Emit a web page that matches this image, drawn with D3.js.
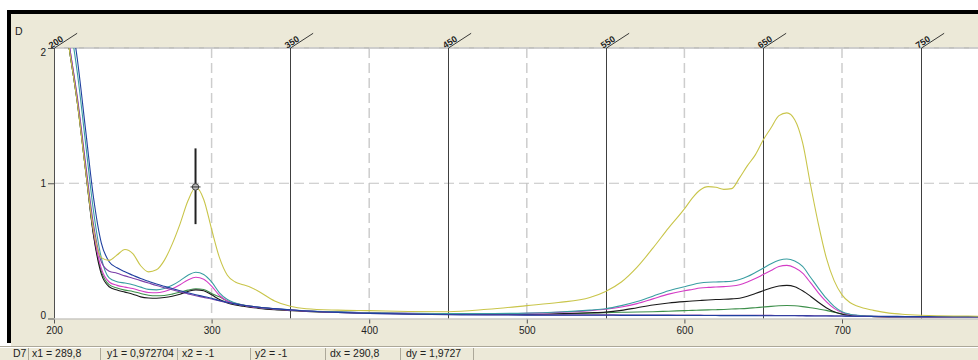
<!DOCTYPE html>
<html>
<head>
<meta charset="utf-8">
<script src="https://cdn.jsdelivr.net/npm/d3@7/dist/d3.min.js"></script>
<style>
  html, body { margin: 0; padding: 0; background: #fff; }
  svg { display: block; }
  text { font-family: "Liberation Sans Narrow", "Arial Narrow", "Liberation Sans", sans-serif; }
</style>
</head>
<body>
<div id="chart"></div>
<script>
// wavelength grid (nm) shared by every spectrum
const WAVELENGTHS = [200, 205, 210, 215, 220, 225, 230, 235, 240, 245, 250, 255, 260, 265, 270, 275, 280, 285, 290, 295,
  300, 305, 310, 315, 320, 325, 330, 340, 350, 360, 380, 400, 425, 450, 475, 500, 520, 540, 550, 560,
  570, 580, 590, 600, 605, 610, 615, 620, 625, 630, 635, 640, 645, 650, 655, 660, 665, 670, 675, 680,
  685, 690, 695, 700, 705, 710, 720, 730, 740, 760, 780, 800];

const GREEN = [2.7, 2.35, 1.97, 1.58, 1.1, 0.63, 0.35, 0.25, 0.225, 0.21, 0.2, 0.185, 0.172, 0.168, 0.17, 0.18, 0.195, 0.21, 0.22, 0.215,
  0.185, 0.16, 0.13, 0.112, 0.1, 0.09, 0.082, 0.07, 0.062, 0.055, 0.047, 0.042, 0.036, 0.032, 0.03, 0.03, 0.033, 0.04, 0.043, 0.046,
  0.048, 0.05, 0.054, 0.058, 0.06, 0.062, 0.064, 0.065, 0.067, 0.07, 0.072, 0.075, 0.08, 0.085, 0.09, 0.094, 0.096, 0.094, 0.088, 0.08,
  0.07, 0.06, 0.047, 0.035, 0.026, 0.02, 0.015, 0.013, 0.012, 0.011, 0.01, 0.01];

const BLACK = [2.7, 2.35, 1.97, 1.58, 1.1, 0.62, 0.33, 0.235, 0.21, 0.195, 0.18, 0.16, 0.152, 0.15, 0.155, 0.165, 0.18, 0.2, 0.212, 0.205,
  0.175, 0.14, 0.115, 0.1, 0.09, 0.082, 0.075, 0.065, 0.058, 0.052, 0.045, 0.04, 0.035, 0.03, 0.03, 0.03, 0.035, 0.042, 0.047, 0.06,
  0.08, 0.1, 0.115, 0.125, 0.129, 0.133, 0.137, 0.14, 0.142, 0.145, 0.15, 0.165, 0.185, 0.205, 0.225, 0.24, 0.245, 0.235, 0.205, 0.165,
  0.12, 0.08, 0.05, 0.032, 0.022, 0.018, 0.014, 0.012, 0.011, 0.01, 0.01, 0.01];

const MAGENTA = [2.75, 2.4, 2.0, 1.6, 1.12, 0.65, 0.37, 0.27, 0.245, 0.232, 0.222, 0.205, 0.192, 0.19, 0.2, 0.22, 0.25, 0.285, 0.305, 0.29,
  0.24, 0.17, 0.13, 0.11, 0.098, 0.088, 0.08, 0.07, 0.062, 0.056, 0.048, 0.042, 0.038, 0.035, 0.035, 0.038, 0.045, 0.058, 0.068, 0.085,
  0.11, 0.145, 0.18, 0.205, 0.215, 0.225, 0.23, 0.233, 0.236, 0.24, 0.25, 0.27, 0.295, 0.325, 0.355, 0.385, 0.393, 0.375, 0.335, 0.265,
  0.19, 0.125, 0.075, 0.045, 0.03, 0.022, 0.016, 0.013, 0.012, 0.011, 0.01, 0.01];

const TEAL = [2.9, 2.6, 2.2, 1.8, 1.3, 0.8, 0.45, 0.3, 0.272, 0.262, 0.25, 0.232, 0.215, 0.212, 0.222, 0.245, 0.28, 0.32, 0.342, 0.325,
  0.27, 0.19, 0.14, 0.115, 0.1, 0.09, 0.082, 0.072, 0.064, 0.057, 0.049, 0.043, 0.039, 0.036, 0.037, 0.04, 0.048, 0.062, 0.072, 0.095,
  0.125, 0.165, 0.205, 0.235, 0.25, 0.262, 0.268, 0.27, 0.272, 0.276, 0.288, 0.31, 0.34, 0.372, 0.405, 0.43, 0.44, 0.425, 0.385, 0.305,
  0.225, 0.15, 0.09, 0.05, 0.032, 0.024, 0.017, 0.014, 0.012, 0.011, 0.01, 0.01];

const PURPLE = [2.75, 2.4, 2.0, 1.62, 1.15, 0.7, 0.42, 0.35, 0.335, 0.315, 0.298, 0.28, 0.262, 0.244, 0.228, 0.212, 0.196, 0.182, 0.168, 0.156,
  0.144, 0.13, 0.118, 0.107, 0.098, 0.09, 0.083, 0.072, 0.063, 0.055, 0.045, 0.038, 0.033, 0.03, 0.028, 0.027, 0.027, 0.027, 0.027, 0.026,
  0.026, 0.026, 0.025, 0.025, 0.025, 0.025, 0.024, 0.024, 0.024, 0.024, 0.024, 0.023, 0.023, 0.023, 0.023, 0.022, 0.022, 0.022, 0.021, 0.021,
  0.02, 0.02, 0.019, 0.018, 0.017, 0.016, 0.015, 0.014, 0.013, 0.012, 0.012, 0.011];

const BLUE = [3.0, 2.7, 2.3, 1.9, 1.4, 0.9, 0.56, 0.42, 0.375, 0.345, 0.32, 0.295, 0.275, 0.255, 0.238, 0.222, 0.205, 0.19, 0.176, 0.163,
  0.15, 0.133, 0.12, 0.108, 0.098, 0.09, 0.083, 0.073, 0.064, 0.056, 0.045, 0.038, 0.032, 0.028, 0.026, 0.025, 0.024, 0.024, 0.024, 0.023,
  0.023, 0.023, 0.023, 0.022, 0.022, 0.022, 0.022, 0.022, 0.021, 0.021, 0.021, 0.021, 0.021, 0.02, 0.02, 0.02, 0.02, 0.02, 0.02, 0.019,
  0.019, 0.019, 0.018, 0.018, 0.017, 0.017, 0.016, 0.016, 0.015, 0.015, 0.015, 0.015];

const YELLOW = [2.7, 2.35, 1.97, 1.58, 1.1, 0.66, 0.45, 0.43, 0.47, 0.51, 0.48, 0.39, 0.345, 0.36, 0.43, 0.55, 0.7, 0.87, 0.97, 0.88,
  0.66, 0.45, 0.32, 0.27, 0.25, 0.23, 0.2, 0.13, 0.09, 0.072, 0.062, 0.058, 0.052, 0.05, 0.068, 0.095, 0.118, 0.155, 0.2, 0.27,
  0.38, 0.52, 0.67, 0.81, 0.89, 0.95, 0.975, 0.97, 0.955, 0.96, 1.04, 1.13, 1.21, 1.32, 1.41, 1.5, 1.52, 1.47, 1.3, 0.99,
  0.7, 0.45, 0.28, 0.175, 0.118, 0.09, 0.06, 0.04, 0.03, 0.02, 0.018, 0.015];

const SERIES = [
  { name: 'green', color: '#3d8f4a', values: GREEN },
  { name: 'black', color: '#1a1a1a', values: BLACK },
  { name: 'magenta', color: '#d43cc6', values: MAGENTA },
  { name: 'teal', color: '#3a9ea2', values: TEAL },
  { name: 'purple', color: '#7b3fa8', values: PURPLE },
  { name: 'blue', color: '#1f3f9f', values: BLUE },
  { name: 'yellow', color: '#c9c54a', values: YELLOW }
];

const X_TICKS = [200, 300, 400, 500, 600, 700];
const X_DASHED = [300, 400, 500, 600, 700];
const X_SOLID = [350, 450, 550, 650, 750];
const TOP_LABELS = [200, 350, 450, 550, 650, 750];
const Y_TICKS = [0, 1, 2];

// cursor readout
const CURSOR = { x1: 289.8, y1: 0.972704 };
const STATUS = ['D7', 'x1 = 289,8', 'y1 = 0,972704', 'x2 = -1', 'y2 = -1', 'dx = 290,8', 'dy = 1,9727'];
const STATUS_X = [13, 32, 107, 182, 255, 330, 406];
const STATUS_SEP = [28, 100, 177, 250, 325, 400, 473];

const W = 978, H = 360;
const plot = { left: 54, top: 48, bottom: 318.5 };

const svg = d3.select('#chart').append('svg')
  .attr('width', W)
  .attr('height', H);

// window frame
svg.append('rect').attr('width', W).attr('height', H).attr('fill', '#fff');
svg.append('rect').attr('x', 7).attr('y', 10).attr('width', W - 7).attr('height', 333).attr('fill', '#000');
svg.append('rect').attr('x', 11).attr('y', 14).attr('width', W - 11).attr('height', 332).attr('fill', '#ece9d8');
svg.append('rect').attr('x', 0).attr('y', 346).attr('width', W).attr('height', 14).attr('fill', '#ece9d8');
svg.append('line').attr('x1', 0).attr('x2', W).attr('y1', 346.5).attr('y2', 346.5).attr('stroke', '#aca899');
svg.append('line').attr('x1', 0).attr('x2', W).attr('y1', 347.5).attr('y2', 347.5).attr('stroke', '#fff');

const x = d3.scaleLinear().domain([200, 800]).range([plot.left, plot.left + 600 * 1.576]);
const y = d3.scaleLinear().domain([0, 2]).range([plot.bottom, plot.top]);

svg.append('rect')
  .attr('x', plot.left).attr('y', plot.top)
  .attr('width', W - plot.left).attr('height', plot.bottom - plot.top)
  .attr('fill', '#fff');

svg.append('defs').append('clipPath').attr('id', 'clip')
  .append('rect')
  .attr('x', plot.left).attr('y', plot.top)
  .attr('width', W - plot.left).attr('height', plot.bottom - plot.top);

// grid
const grid = svg.append('g');
grid.selectAll('line.vdash')
  .data(X_DASHED)
  .join('line')
  .attr('class', 'vdash')
  .attr('x1', d => x(d)).attr('x2', d => x(d))
  .attr('y1', plot.top).attr('y2', plot.bottom)
  .attr('stroke', '#cdcdcd')
  .attr('stroke-width', 1.5)
  .attr('stroke-dasharray', '10,5');

grid.append('line')
  .attr('x1', plot.left).attr('x2', W)
  .attr('y1', y(1)).attr('y2', y(1))
  .attr('stroke', '#c4c4c4')
  .attr('stroke-width', 1.2)
  .attr('stroke-dasharray', '10,5');

grid.append('line')
  .attr('x1', plot.left).attr('x2', W)
  .attr('y1', y(2)).attr('y2', y(2))
  .attr('stroke', '#b4b4b4')
  .attr('stroke-width', 1.5);
grid.append('line')
  .attr('x1', plot.left).attr('x2', W)
  .attr('y1', y(2)).attr('y2', y(2))
  .attr('stroke', '#d8d8d8')
  .attr('stroke-width', 1)
  .attr('stroke-dasharray', '10,5');

grid.selectAll('line.vsolid')
  .data(X_SOLID)
  .join('line')
  .attr('class', 'vsolid')
  .attr('x1', d => Math.round(x(d)) + 0.5).attr('x2', d => Math.round(x(d)) + 0.5)
  .attr('y1', plot.top).attr('y2', plot.bottom)
  .attr('stroke', '#404040')
  .attr('stroke-width', 1);

// spectra
const line = d3.line()
  .x((d, i) => x(WAVELENGTHS[i]))
  .y(d => y(d))
  .curve(d3.curveMonotoneX);

svg.append('g')
  .attr('clip-path', 'url(#clip)')
  .selectAll('path')
  .data(SERIES)
  .join('path')
  .attr('d', d => line(d.values))
  .attr('fill', 'none')
  .attr('stroke', d => d.color)
  .attr('stroke-width', 1.1);

// axes frame
svg.append('line')
  .attr('x1', plot.left + 0.5).attr('x2', plot.left + 0.5)
  .attr('y1', plot.top).attr('y2', plot.bottom)
  .attr('stroke', '#505050');
svg.append('line')
  .attr('x1', plot.left).attr('x2', W)
  .attr('y1', plot.bottom + 0.5).attr('y2', plot.bottom + 0.5)
  .attr('stroke', '#b8b8b8');

const xAxis = d3.axisBottom(x)
  .tickValues(X_TICKS)
  .tickSize(4)
  .tickPadding(3)
  .tickFormat(d3.format('d'));

svg.append('g')
  .attr('transform', `translate(0,${plot.bottom + 1})`)
  .call(xAxis)
  .call(g => g.select('.domain').remove())
  .call(g => g.selectAll('.tick line').attr('stroke', '#555'))
  .call(g => g.selectAll('.tick text')
    .attr('fill', '#222')
    .attr('font-size', 10)
    .style('font-family', '"Liberation Sans Narrow", "Arial Narrow", sans-serif'));

const yAxis = d3.axisLeft(y)
  .tickValues(Y_TICKS)
  .tickSize(6)
  .tickPadding(2)
  .tickFormat(d3.format('d'));

svg.append('g')
  .attr('transform', `translate(${plot.left},0)`)
  .call(yAxis)
  .call(g => g.select('.domain').remove())
  .call(g => g.selectAll('.tick line').attr('stroke', '#555'))
  .call(g => g.selectAll('.tick text')
    .attr('fill', '#222')
    .attr('font-size', 10)
    .attr('dy', (d) => d === 2 ? '0.75em' : (d === 0 ? '-0.05em' : '0.32em'))
    .style('font-family', '"Liberation Sans Narrow", "Arial Narrow", sans-serif'));

// slanted labels along the top
const topLabels = svg.append('g')
  .selectAll('g')
  .data(TOP_LABELS)
  .join('g')
  .attr('transform', d => `translate(${Math.round(x(d)) + 0.5},${plot.top}) rotate(-33)`);
topLabels.append('line')
  .attr('x1', 0).attr('x2', 27)
  .attr('y1', 0).attr('y2', 0)
  .attr('stroke', '#222')
  .attr('stroke-width', 0.8);
topLabels.append('text')
  .attr('x', -3).attr('y', -1.2)
  .attr('font-size', 9)
  .attr('font-weight', 'bold')
  .attr('fill', '#222')
  .text(d => d);

svg.append('text')
  .attr('x', 15).attr('y', 35)
  .attr('font-size', 10.5)
  .attr('fill', '#222')
  .text('D');

// cursor
const cx = x(CURSOR.x1), cy = y(CURSOR.y1);
svg.append('line')
  .attr('x1', cx).attr('x2', cx)
  .attr('y1', y(CURSOR.y1 + 0.285)).attr('y2', y(CURSOR.y1 - 0.275))
  .attr('stroke', '#222')
  .attr('stroke-width', 2);
svg.append('circle')
  .attr('cx', cx).attr('cy', cy).attr('r', 3.2)
  .attr('fill', '#bbb')
  .attr('stroke', '#444')
  .attr('stroke-width', 1);
svg.append('line')
  .attr('x1', cx - 5).attr('x2', cx + 5)
  .attr('y1', cy).attr('y2', cy)
  .attr('stroke', '#333');

// status bar
svg.append('g')
  .selectAll('line')
  .data(STATUS_SEP)
  .join('line')
  .attr('x1', d => d + 0.5).attr('x2', d => d + 0.5)
  .attr('y1', 348).attr('y2', H)
  .attr('stroke', '#aca899');

svg.append('g')
  .selectAll('text')
  .data(STATUS)
  .join('text')
  .attr('x', (d, i) => STATUS_X[i])
  .attr('y', 356.5)
  .attr('font-size', 10.5)
  .attr('fill', '#222')
  .text(d => d);
</script>
</body>
</html>
